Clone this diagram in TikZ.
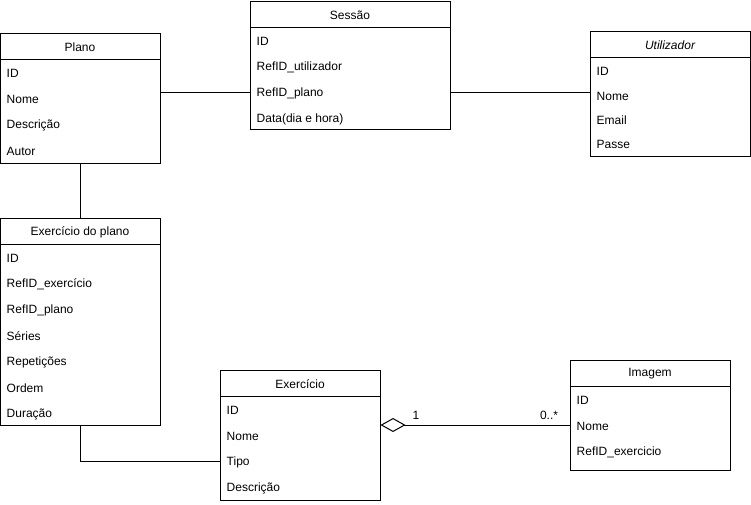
\documentclass[tikz,border=0pt]{standalone}
\usepackage{fontspec}
\setmainfont{Liberation Sans}
\usetikzlibrary{arrows.meta}

\begin{document}
\begin{tikzpicture}[x=1pt,y=-1pt,font=\fontsize{12}{14}\selectfont]
\tikzstyle{classbox}=[draw,line width=1pt,outer sep=0pt,anchor=north west,minimum width=160pt]
\tikzstyle{attr}=[anchor=west,inner sep=0pt]

\useasboundingbox (0,0) rectangle (751,504);

% classes
\node (plano) [classbox,minimum height=130pt] at (0.5,33) {};
\node (planoT) at (80,47) {Plano};
\draw [line width=1pt] (0.5,59) -- (160.5,59);
\foreach \t [count=\i] in {ID,Nome,Descrição,Autor}
  \node (plano\i) [attr] at (6.5,47.5+26*\i) {\t};

\node (sessao) [classbox,minimum width=200pt,minimum height=128pt] at (250.5,1) {};
\node (sessaoT) at (350,15) {Sessão};
\draw [line width=1pt] (250.5,27) -- (450.5,27);
\foreach \t [count=\i] in {ID,RefID\_utilizador,RefID\_plano,Data(dia e hora)}
  \node (sessao\i) [attr] at (256.5,15.5+26*\i) {\t};

\node (util) [classbox,minimum height=125pt] at (590.5,31) {};
\node (utilT) at (670,45) {\itshape Utilizador};
\draw [line width=1pt] (590.5,57) -- (750.5,57);
\foreach \t [count=\i] in {ID,Nome,Email,Passe}
  \node (util\i) [attr] at (596.5,47.5+24.3*\i) {\t};

\node (explano) [classbox,minimum height=207pt] at (0.5,218) {};
\node (explanoT) at (80,232) {Exercício do plano};
\draw [line width=1pt] (0.5,244) -- (160.5,244);
\foreach \t [count=\i] in {ID,RefID\_exercício,RefID\_plano,Séries,Repetições,Ordem,Duração}
  \node (explano\i) [attr] at (6.5,232.5+26*\i) {\t};

\node (exerc) [classbox,minimum height=130pt] at (220.5,370) {};
\node (exercT) at (300,384) {Exercício};
\draw [line width=1pt] (220.5,396) -- (380.5,396);
\foreach \t [count=\i] in {ID,Nome,Tipo,Descrição}
  \node (exerc\i) [attr] at (226.5,384.5+26*\i) {\t};

\node (imagem) [classbox,minimum height=110pt] at (570.5,360) {};
\node (imagemT) at (650,374) {Imagem};
\draw [line width=1pt] (570.5,386) -- (730.5,386);
\foreach \t [count=\i] in {ID,Nome,RefID\_exercicio}
  \node (imagem\i) [attr] at (576.5,374.5+26*\i) {\t};

% associations
\draw [line width=1pt] (plano.east |- 0,92) -- (sessao.west |- 0,92);
\draw [line width=1pt] (sessao.east |- 0,92) -- (util.west |- 0,92);
\draw [line width=1pt] (plano.south) -- (explano.north);
\draw [line width=1pt] (explano.south) |- (exerc.west |- 0,461);
\draw [line width=1pt,{Diamond[open,length=25pt,width=14pt]}-] (exerc.east |- 0,425) -- (imagem.west |- 0,425);

\node (mult1) at (416,415) {1};
\node (mult2) at (549,415) {0..*};

\end{tikzpicture}
\end{document}
